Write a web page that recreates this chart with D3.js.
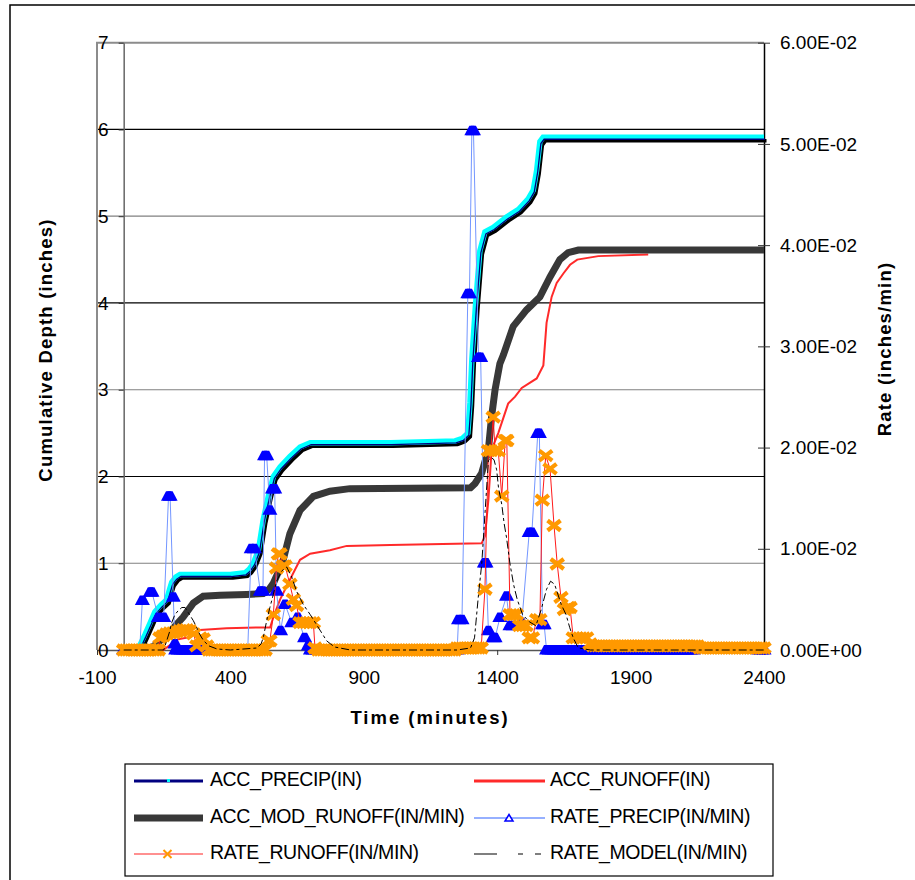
<!DOCTYPE html>
<html>
<head>
<meta charset="utf-8">
<script src="https://cdn.jsdelivr.net/npm/d3@7/dist/d3.min.js"></script>
<style>
  body { margin: 0; background: #fff; }
  svg { display: block; font-family: Arial, "Liberation Sans", sans-serif; }
</style>
</head>
<body>
<svg id="chart" width="915" height="880"></svg>
<script>
// ---- data (time in minutes) ----
const xTicks = [-100, 400, 900, 1400, 1900, 2400];
const depthTicks = [0, 1, 2, 3, 4, 5, 6, 7];
const rateTicks = [0, 0.01, 0.02, 0.03, 0.04, 0.05, 0.06];

// cumulative depth, inches
const accPrecip = [[0,0],[50,0],[60,0.05],[80,0.18],[100,0.32],[117,0.44],[140,0.52],[161,0.58],[172,0.7],[180,0.78],[195,0.84],[211,0.87],[300,0.87],[400,0.87],[455,0.89],[470,0.93],[486,1.0],[505,1.15],[523,1.5],[542,1.77],[561,2.0],[586,2.11],[623,2.23],[661,2.34],[699,2.39],[1000,2.39],[1242,2.41],[1270,2.44],[1290,2.5],[1298,2.85],[1305,3.35],[1318,3.95],[1335,4.6],[1354,4.82],[1385,4.87],[1435,4.99],[1480,5.08],[1516,5.2],[1535,5.3],[1548,5.53],[1560,5.86],[1572,5.91],[2400,5.91]];
const accRunoff = [[0,0],[148,0],[175,0.06],[199,0.12],[248,0.15],[286,0.23],[386,0.25],[498,0.26],[549,0.26],[561,0.38],[586,0.58],[623,0.81],[661,1.04],[699,1.11],[773,1.15],[836,1.2],[1000,1.21],[1342,1.23],[1354,1.31],[1367,1.73],[1379,2.31],[1404,2.5],[1441,2.84],[1467,2.92],[1492,3.02],[1548,3.13],[1573,3.28],[1585,3.77],[1604,4.07],[1623,4.23],[1648,4.34],[1673,4.44],[1700,4.5],[1779,4.54],[1966,4.56]];
const accModRunoff = [[0,0],[100,0],[111,0.04],[161,0.17],[223,0.38],[261,0.54],[298,0.62],[361,0.63],[461,0.64],[523,0.65],[545,0.7],[561,0.77],[580,0.9],[598,1.04],[623,1.34],[661,1.61],[711,1.77],[773,1.83],[848,1.86],[1300,1.87],[1317,1.92],[1342,2.04],[1367,2.31],[1379,2.69],[1392,3.0],[1410,3.3],[1423,3.4],[1460,3.73],[1510,3.92],[1560,4.07],[1598,4.3],[1635,4.5],[1666,4.58],[1704,4.61],[2400,4.61]];

// rates, inches/min: runs of flat readings [from, to, value] (logged every 10 min) plus single readings
const precipRuns = [[0,60,0],[195,470,0],[700,1250,0],[1585,2140,0],[2380,2400,0]];
const precipReadings = [[70,0.0049],[100,0.0057],[106,0.0057],[130,0.0032],[150,0.0032],[168,0.0152],[174,0.0152],[186,0.0052],[192,0.0006],
  [478,0.01],[490,0.01],[512,0.0058],[522,0.0058],[528,0.0192],[536,0.0192],[548,0.0138],[558,0.0159],[566,0.0159],[573,0.0058],[588,0.0019],[605,0.0045],[630,0.0027],[652,0.0032],[678,0.0012],[692,0.0004],
  [1255,0.003],[1268,0.003],[1290,0.0352],[1296,0.0352],[1305,0.0513],[1311,0.0513],[1330,0.0289],[1338,0.0289],[1352,0.0086],[1358,0.0086],[1367,0.0019],[1385,0.0012],[1392,0.0012],[1410,0.0032],[1435,0.0053],[1448,0.0024],[1460,0.0024],[1492,0.0027],[1520,0.0116],[1530,0.0116],[1552,0.0214],[1558,0.0214],[1570,0.0025],[1576,0.0025]];
const runoffRuns = [[0,130,0],[320,535,0],[730,1240,0],[1250,1340,0.0002],[1770,2150,0.0004],[2160,2400,0.0002]];
const runoffReadings = [[136,0.0012],[148,0.0014],[161,0.0016],[174,0.0017],[186,0.0017],[198,0.0018],[211,0.0019],[224,0.002],[236,0.002],[248,0.0019],[262,0.0016],[274,0.0004],[286,0.0012],[298,0.0011],[311,0.0004],
  [542,0.0009],[548,0.0009],[561,0.0035],[573,0.0081],[580,0.0095],[586,0.0095],[598,0.0083],[605,0.0083],[623,0.0065],[636,0.005],[648,0.0044],[661,0.0027],[674,0.0027],[686,0.0027],[698,0.0027],[711,0.0027],[717,0.0002],
  [1354,0.006],[1367,0.0197],[1376,0.0197],[1385,0.023],[1392,0.0197],[1404,0.0197],[1417,0.0152],[1430,0.0207],[1436,0.0207],[1448,0.0035],[1460,0.0035],[1472,0.0035],[1484,0.0024],[1496,0.0024],[1508,0.0024],[1520,0.0012],[1532,0.0012],[1548,0.003],[1560,0.003],[1569,0.0148],[1582,0.0192],[1598,0.0179],[1613,0.0123],[1625,0.0085],[1639,0.0052],[1652,0.004],[1665,0.0042],[1673,0.0042],[1685,0.0012],[1697,0.0012],[1710,0.0012],[1722,0.0012],[1735,0.0012],[1748,0.0006],[1760,0.0004]];
const rateModel = [[0,0],[150,0],[161,0.0009],[172,0.0018],[180,0.0027],[192,0.0035],[205,0.0039],[218,0.0042],[230,0.0042],[242,0.0037],[261,0.0029],[274,0.0022],[286,0.0015],[300,0.0009],[320,0.0004],[350,0.0001],[400,0],
  [500,0.0002],[515,0.0006],[523,0.0012],[536,0.0029],[548,0.0042],[561,0.0055],[573,0.0068],[592,0.0078],[611,0.0082],[630,0.0072],[648,0.0058],[673,0.0045],[699,0.0035],[723,0.0025],[742,0.0017],[761,0.0009],[790,0.0003],[850,0],
  [1250,0],[1300,0.0002],[1315,0.0012],[1330,0.0055],[1342,0.0085],[1354,0.0134],[1367,0.0187],[1378,0.019],[1388,0.0188],[1398,0.0178],[1405,0.016],[1417,0.0144],[1426,0.0125],[1435,0.0111],[1448,0.0085],[1462,0.0064],[1475,0.005],[1495,0.0035],[1520,0.0028],[1545,0.0024],[1565,0.004],[1585,0.006],[1600,0.0068],[1615,0.0065],[1640,0.0045],[1658,0.0035],[1672,0.0022],[1685,0.0012],[1704,0.0002],[1750,0],[2400,0]];

const legendLabels = ["ACC_PRECIP(IN)", "ACC_RUNOFF(IN)", "ACC_MOD_RUNOFF(IN/MIN)", "RATE_PRECIP(IN/MIN)", "RATE_RUNOFF(IN/MIN)", "RATE_MODEL(IN/MIN)"];

// ---- helpers ----
const expandRuns = (runs) => runs.flatMap(([a, b, v]) => d3.range(a, b + 1, 10).map((t) => [t, v]));
const merge = (runs, pts) => [...expandRuns(runs), ...pts].sort((p, q) => p[0] - q[0]);
const ratePrecip = merge(precipRuns, precipReadings);
const rateRunoff = merge(runoffRuns, runoffReadings);

const sciFmt = (d) => {
  const [m, e] = d.toExponential(2).split("e");
  return `${m}E${e[0]}${e.slice(1).padStart(2, "0")}`;
};
const plainFmt = (d) => String(d);

// ---- layout ----
const svg = d3.select("#chart");
const x = d3.scaleLinear().domain([-100, 2400]).range([97, 764]);
const yL = d3.scaleLinear().domain([0, 7]).range([650, 42.7]);
const yR = d3.scaleLinear().domain([0, 0.06]).range([650, 42.7]);

// chart area border
svg.append("rect").attr("x", 10).attr("y", 5).attr("width", 920).attr("height", 890)
  .attr("fill", "none").attr("stroke", "#000").attr("stroke-width", 1.5);

// gridlines
svg.append("g").selectAll("line").data(depthTicks.filter((d) => d > 0 && d < 7)).join("line")
  .attr("x1", 97).attr("x2", 764).attr("y1", (d) => yL(d)).attr("y2", (d) => yL(d))
  .attr("stroke", (d) => (d % 2 === 0 ? "#000" : "#808080")).attr("stroke-width", 1.2);

// plot border (top + left)
svg.append("path").attr("d", `M${x(-100)},${yL(0)}V${yL(7)}H${x(2400)}`)
  .attr("fill", "none").attr("stroke", "#8c8c8c").attr("stroke-width", 2);

// axes
const fontSize = 19;
const gx = svg.append("g").attr("transform", `translate(0,${yL(0)})`)
  .call(d3.axisBottom(x).tickValues(xTicks).tickFormat(plainFmt).tickSize(5).tickPadding(16).tickSizeOuter(0));
const gl = svg.append("g").attr("transform", `translate(${x(0)},0)`)
  .call(d3.axisLeft(yL).tickValues(depthTicks).tickFormat(plainFmt).tickSize(5).tickPadding(10).tickSizeOuter(0));
const gr = svg.append("g").attr("transform", `translate(${x(2400)},0)`)
  .call(d3.axisRight(yR).tickValues(rateTicks).tickFormat(sciFmt).tickSize(6).tickPadding(10).tickSizeOuter(0));
gr.selectAll(".tick line").attr("x1", -6);
[gx, gl, gr].forEach((g) => {
  g.selectAll("text").attr("font-size", fontSize).attr("font-family", "Arial, 'Liberation Sans', sans-serif").attr("fill", "#000");
  g.selectAll("line").attr("stroke", "#333");
});
gx.select(".domain").attr("stroke", "#555").attr("stroke-width", 1.5);
gl.select(".domain").attr("stroke", "#666").attr("stroke-width", 1.5);
gr.select(".domain").attr("stroke", "#000").attr("stroke-width", 1.5);

// axis titles
svg.append("text").attr("x", 430).attr("y", 724).attr("text-anchor", "middle")
  .attr("font-size", 18.5).attr("font-weight", "bold").attr("letter-spacing", 2).text("Time (minutes)");
svg.append("text").attr("transform", "translate(47,350) rotate(-90)").attr("text-anchor", "middle")
  .attr("dominant-baseline", "middle").attr("font-size", 18.5).attr("font-weight", "bold").attr("letter-spacing", 1.2)
  .text("Cumulative Depth (inches)");
svg.append("text").attr("transform", "translate(886,349) rotate(-90)").attr("text-anchor", "middle")
  .attr("dominant-baseline", "middle").attr("font-size", 18.5).attr("font-weight", "bold").attr("letter-spacing", 1.2)
  .text("Rate (inches/min)");

// ---- series ----
const lineL = d3.line().x((d) => x(d[0])).y((d) => yL(d[1]));
const lineR = d3.line().x((d) => x(d[0])).y((d) => yR(d[1]));
const plot = svg.append("g");

// ACC_PRECIP: dark line shadow, cyan markers, navy line
plot.append("path").datum(accPrecip).attr("d", lineL).attr("transform", "translate(2.5,3.5)")
  .attr("fill", "none").attr("stroke", "#000").attr("stroke-width", 3.5);
plot.append("path").datum(accPrecip).attr("d", lineL)
  .attr("fill", "none").attr("stroke", "#00ffff").attr("stroke-width", 5.5);
plot.append("path").datum(accPrecip).attr("d", lineL).attr("transform", "translate(1,2)")
  .attr("fill", "none").attr("stroke", "#000080").attr("stroke-width", 1.3);

// ACC_RUNOFF
plot.append("path").datum(accRunoff).attr("d", lineL)
  .attr("fill", "none").attr("stroke", "#ff2a2a").attr("stroke-width", 2);

// ACC_MOD_RUNOFF
plot.append("path").datum(accModRunoff).attr("d", lineL)
  .attr("fill", "none").attr("stroke", "#383838").attr("stroke-width", 7);

// RATE_PRECIP
const triPath = "M-2.5,-5L2.5,-5L7.5,4.5L-7.5,4.5Z";
plot.append("path").datum(ratePrecip).attr("d", lineR)
  .attr("fill", "none").attr("stroke", "#7396ff").attr("stroke-width", 1);
plot.append("g").selectAll("path").data(ratePrecip).join("path")
  .attr("d", triPath).attr("transform", (d) => `translate(${x(d[0])},${yR(d[1])})`)
  .attr("fill", "#0000ff");

// RATE_RUNOFF
const xPath = "M-6.5,-5L6.5,5M6.5,-5L-6.5,5";
plot.append("path").datum(rateRunoff).attr("d", lineR)
  .attr("fill", "none").attr("stroke", "#ff1a1a").attr("stroke-width", 1);
plot.append("g").selectAll("path").data(rateRunoff).join("path")
  .attr("d", xPath).attr("transform", (d) => `translate(${x(d[0])},${yR(d[1])})`)
  .attr("fill", "none").attr("stroke", "#ff9900").attr("stroke-width", 4.2);

// RATE_MODEL
plot.append("path").datum(rateModel).attr("d", lineR)
  .attr("fill", "none").attr("stroke", "#000").attr("stroke-width", 1).attr("stroke-dasharray", "8,3,3,3");

// ---- legend ----
const lg = svg.append("g");
lg.append("rect").attr("x", 125).attr("y", 764).attr("width", 648).attr("height", 112)
  .attr("fill", "#fff").attr("stroke", "#000").attr("stroke-width", 1.2);
const rowsY = [781, 818, 854];
const colX = [134, 474];
const sym = [
  (g) => { g.append("line").attr("x2", 69).attr("stroke", "#000080").attr("stroke-width", 3);
           g.append("rect").attr("x", 33).attr("y", -2).attr("width", 3).attr("height", 3).attr("fill", "#00ffff"); },
  (g) => { g.append("line").attr("x2", 71).attr("stroke", "#ff2a2a").attr("stroke-width", 3); },
  (g) => { g.append("line").attr("x2", 69).attr("stroke", "#383838").attr("stroke-width", 7); },
  (g) => { g.append("line").attr("x2", 71).attr("stroke", "#7396ff").attr("stroke-width", 1.5);
           g.append("path").attr("d", "M35,-3.5L39,3L31,3Z").attr("fill", "#fff").attr("stroke", "#0000ff").attr("stroke-width", 1.5); },
  (g) => { g.append("line").attr("x2", 69).attr("stroke", "#ff6b6b").attr("stroke-width", 1.5);
           g.append("path").attr("d", "M29.5,-4L37.5,4M37.5,-4L29.5,4").attr("stroke", "#ff9900").attr("stroke-width", 2); },
  (g) => { g.append("line").attr("x2", 71).attr("stroke", "#000").attr("stroke-width", 1.2).attr("stroke-dasharray", "23,21,5,12,6"); },
];
legendLabels.forEach((label, i) => {
  const cx = colX[i % 2], cy = rowsY[Math.floor(i / 2)];
  const g = lg.append("g").attr("transform", `translate(${cx},${cy})`);
  sym[i](g);
  g.append("text").attr("x", 76).attr("dominant-baseline", "middle")
    .attr("font-size", 19.5).attr("letter-spacing", -0.4).text(label);
});
</script>
</body>
</html>
